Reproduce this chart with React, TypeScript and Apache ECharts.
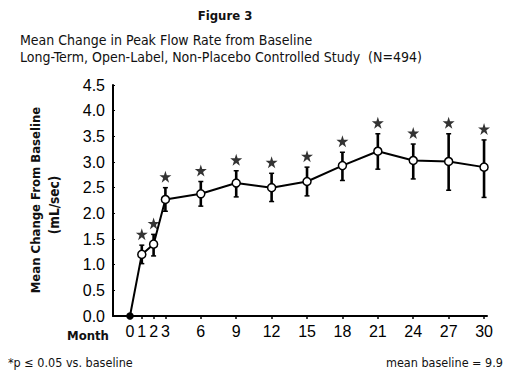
import React, { useEffect, useRef } from "react";
import * as echarts from "echarts";

// Months of observation
const months = [0, 1, 2, 3, 6, 9, 12, 15, 18, 21, 24, 27, 30];
// Mean change in peak flow rate from baseline (mL/sec)
const meanChange = [0, 1.2, 1.4, 2.27, 2.38, 2.59, 2.5, 2.62, 2.93, 3.21, 3.03, 3.01, 2.9];
// Error bar upper / lower bounds
const errorHigh = [null, 1.38, 1.59, 2.5, 2.62, 2.83, 2.78, 2.9, 3.19, 3.55, 3.35, 3.55, 3.43];
const errorLow = [null, 1.02, 1.17, 2.04, 2.14, 2.32, 2.23, 2.34, 2.64, 2.86, 2.67, 2.45, 2.31];
// p <= 0.05 vs. baseline
const significant = [false, true, true, true, true, true, true, true, true, true, true, true, true];

const titleText = "Figure 3";
const subtitle1 = "Mean Change in Peak Flow Rate from Baseline";
const subtitle2 = "Long-Term, Open-Label, Non-Placebo Controlled Study  (N=494)";
const yName1 = "Mean Change From Baseline";
const yName2 = "(mL/sec)";
const xName = "Month";
const footLeft = "*p \u2264 0.05 vs. baseline";
const footRight = "mean baseline = 9.9";

const NARROW = "'Liberation Sans Narrow', 'DejaVu Sans Condensed', 'Liberation Sans', sans-serif";
const REG = "'Liberation Sans', Arial, sans-serif";
const STAR =
  "path://M50,0 L61.2,34.5 L97.6,34.5 L68.2,55.9 L79.4,90.5 L50,69.1 L20.6,90.5 L31.8,55.9 L2.4,34.5 L38.8,34.5 Z";

export default function App() {
  const ref = useRef<HTMLDivElement>(null);

  useEffect(() => {
    if (!ref.current) return;
    const chart = echarts.init(ref.current, null, { renderer: "svg" });

    const lineData = months.map((m, i) =>
      i === 0
        ? { value: [m, meanChange[i]], symbolSize: 6, itemStyle: { color: "#000", borderColor: "#000" } }
        : { value: [m, meanChange[i]] }
    );
    const errData = months
      .map((m, i) => (errorHigh[i] == null ? null : [m, errorLow[i], errorHigh[i]]))
      .filter((d) => d !== null);
    const starData = months
      .map((m, i) => (significant[i] ? [m, errorHigh[i]] : null))
      .filter((d) => d !== null);

    const option: any = {
      animation: false,
      backgroundColor: "#fff",
      grid: { left: 113, right: 24, top: 85, bottom: 63 },
      xAxis: {
        type: "value",
        min: -1.44,
        max: 30.25,
        axisLine: { onZero: false, lineStyle: { color: "#000", width: 2 } },
        axisTick: { show: true, customValues: months, length: 3, lineStyle: { color: "#000", width: 1.5 } },
        axisLabel: {
          customValues: months,
          color: "#000",
          fontSize: 16,
          fontFamily: REG,
          margin: 7,
        },
        splitLine: { show: false },
      },
      yAxis: {
        type: "value",
        min: 0,
        max: 4.5,
        interval: 0.5,
        axisLine: { show: true, onZero: false, lineStyle: { color: "#000", width: 2 } },
        axisTick: { show: true, inside: true, length: 2, lineStyle: { color: "#000", width: 1 } },
        axisLabel: {
          color: "#000",
          fontSize: 16,
          fontFamily: REG,
          margin: 8,
          padding: [0, 0, 6, 0],
          formatter: (v: number) => v.toFixed(1),
        },
        splitLine: { show: false },
      },
      series: [
        {
          type: "custom",
          z: 2,
          data: errData,
          renderItem: (params: any, api: any) => {
            const x = api.value(0);
            const lo = api.coord([x, api.value(1)]);
            const hi = api.coord([x, api.value(2)]);
            const cap = 2.5;
            return {
              type: "group",
              children: [
                {
                  type: "line",
                  shape: { x1: hi[0], y1: hi[1], x2: lo[0], y2: lo[1] },
                  style: { stroke: "#000", lineWidth: 2.6 },
                },
                {
                  type: "line",
                  shape: { x1: hi[0] - cap, y1: hi[1], x2: hi[0] + cap, y2: hi[1] },
                  style: { stroke: "#000", lineWidth: 1.5 },
                },
                {
                  type: "line",
                  shape: { x1: lo[0] - cap, y1: lo[1], x2: lo[0] + cap, y2: lo[1] },
                  style: { stroke: "#000", lineWidth: 1.5 },
                },
              ],
            };
          },
        },
        {
          type: "line",
          z: 3,
          data: lineData,
          symbol: "circle",
          symbolSize: 8,
          showAllSymbol: true,
          lineStyle: { color: "#000", width: 2 },
          itemStyle: { color: "#fff", borderColor: "#000", borderWidth: 1.5 },
        },
        {
          type: "scatter",
          z: 4,
          data: starData,
          symbol: STAR,
          symbolSize: 12,
          symbolOffset: [0, -11],
          itemStyle: { color: "#000" },
        },
      ],
      graphic: [
        {
          type: "text",
          x: 225,
          y: 15,
          style: {
            text: titleText,
            font: `bold 13px ${NARROW}`,
            fill: "#111",
            textAlign: "center",
            textVerticalAlign: "middle",
          },
        },
        {
          type: "text",
          x: 20,
          y: 40,
          style: { text: subtitle1, font: `14px ${NARROW}`, fill: "#111", textVerticalAlign: "middle" },
        },
        {
          type: "text",
          x: 20,
          y: 57,
          style: { text: subtitle2, font: `14px ${NARROW}`, fill: "#111", textVerticalAlign: "middle" },
        },
        {
          type: "text",
          x: 35,
          y: 200,
          rotation: Math.PI / 2,
          style: {
            text: yName1,
            font: `bold 13px ${NARROW}`,
            fill: "#111",
            textAlign: "center",
            textVerticalAlign: "middle",
          },
        },
        {
          type: "text",
          x: 54,
          y: 205,
          rotation: Math.PI / 2,
          style: {
            text: yName2,
            font: `bold 13.5px ${NARROW}`,
            fill: "#111",
            textAlign: "center",
            textVerticalAlign: "middle",
          },
        },
        {
          type: "text",
          x: 67,
          y: 335,
          style: { text: xName, font: `bold 13px ${NARROW}`, fill: "#111", textVerticalAlign: "middle" },
        },
        {
          type: "text",
          x: 8,
          y: 362,
          style: { text: footLeft, font: `12.5px ${NARROW}`, fill: "#111", textVerticalAlign: "middle" },
        },
        {
          type: "text",
          x: 503,
          y: 362,
          style: {
            text: footRight,
            font: `12.5px ${NARROW}`,
            fill: "#111",
            textAlign: "right",
            textVerticalAlign: "middle",
          },
        },
      ],
    };

    chart.setOption(option);
    return () => chart.dispose();
  }, []);

  return <div ref={ref} style={{ width: 511, height: 379, position: "absolute", left: 0, top: 0 }} />;
}
